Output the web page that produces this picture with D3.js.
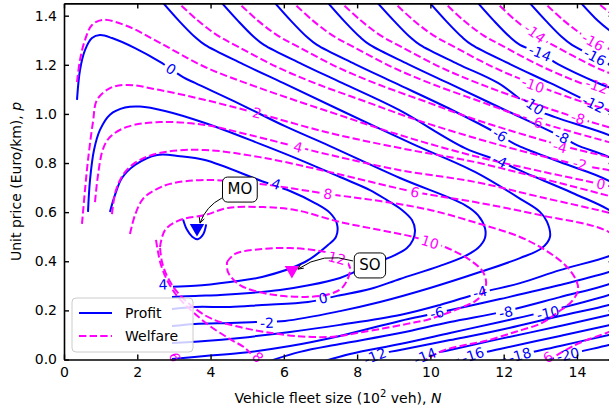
<!DOCTYPE html>
<html>
<head>
<meta charset="utf-8">
<script src="https://cdn.jsdelivr.net/npm/d3@7"></script>
<style>
  body { margin: 0; background: #fff; }
  text { font-family: "DejaVu Sans", sans-serif; }
</style>
</head>
<body>
<svg id="chart" width="609" height="412"></svg>
<script>
// ---- profit contours (N in 10^2 veh, p in Euro/km) ----
const profit6 = [[3.25,0.57],[3.35,0.53],[3.5,0.5],[3.65,0.49],[3.8,0.51],[3.88,0.55]];
const profit4 = [[1.255,0.601],[1.392,0.670],[1.583,0.739],[1.938,0.792],[2.538,0.833],[3.166,0.828],[3.848,0.812],[5.404,0.726],[6.168,0.686],[6.85,0.637],[7.259,0.597],[7.45,0.552],[7.423,0.499],[7.205,0.466],[6.577,0.397],[5.404,0.336],[4.53,0.316],[3.575,0.3],[2.975,0.296]];
const profit2 = [[0.655,0.601],[0.71,0.731],[0.819,0.853],[0.982,0.935],[1.255,0.997],[1.665,1.026],[2.074,1.03],[2.756,1.012],[3.848,0.963],[5.349,0.878],[6.44,0.813],[7.532,0.743],[8.351,0.69],[8.815,0.649],[9.224,0.609],[9.497,0.568],[9.579,0.527],[9.524,0.487],[9.36,0.454],[9.033,0.425],[8.624,0.401],[8.16,0.373],[7.86,0.352],[7.532,0.332],[6.714,0.303],[5.895,0.283],[5.076,0.271],[4.258,0.263],[3.575,0.259],[2.947,0.254]];
const profit0 = [[0.355,1.057],[0.437,1.179],[0.573,1.26],[0.764,1.309],[0.982,1.321],[1.31,1.309],[1.938,1.268],[2.62,1.212],[3.248,1.15],[3.575,1.126],[4.803,1.04],[6.031,0.95],[7.259,0.869],[9.169,0.739],[10.943,0.629],[11.298,0.588],[11.489,0.535],[11.489,0.495],[11.298,0.454],[10.943,0.421],[10.262,0.381],[9.17,0.328],[8.35,0.287],[7.45,0.259],[6.659,0.234],[5.404,0.222],[4.53,0.214],[3.575,0.214],[2.947,0.206]];
const profitM2 = [[2.6,1.47],[3.138,1.379],[3.575,1.313],[3.848,1.281],[4.885,1.203],[5.977,1.126],[7.532,1.016],[9.524,0.877],[11.216,0.764],[12.499,0.65],[12.99,0.601],[13.181,0.561],[13.263,0.499],[13.045,0.454],[12.445,0.413],[11.353,0.356],[9.989,0.291],[8.624,0.234],[7.532,0.197],[6.031,0.157],[5.295,0.153],[4.53,0.149],[3.575,0.145],[2.947,0.136]];
const profitM4 = [[4.2,1.47],[4.749,1.379],[5.185,1.313],[5.458,1.281],[6.495,1.203],[7.587,1.126],[9.142,1.016],[10.943,0.861],[11.898,0.808],[12.362,0.775],[13.945,0.674],[14.873,0.609],[15.45,0.54],[15.45,0.46],[14.873,0.421],[13.537,0.364],[12.445,0.311],[11.353,0.271],[10.262,0.222],[9.17,0.181],[7.532,0.141],[6.168,0.112],[4.803,0.088],[3.848,0.075],[2.947,0.067]];
const profitM6 = [[5.65,1.47],[6.195,1.379],[6.632,1.313],[6.905,1.281],[7.942,1.203],[9.033,1.126],[10.59,1.016],[11.898,0.914],[12.307,0.877],[13.536,0.804],[14.873,0.727],[15.72,0.63],[15.72,0.40],[14.873,0.356],[13.537,0.303],[11.899,0.246],[10.18,0.189],[9.17,0.157],[7.532,0.096],[6.168,0.055],[4.803,0.026],[3.848,0.014],[2.947,0.002]];
const profitM8 = [[7.1,1.47],[7.642,1.379],[8.079,1.313],[8.351,1.281],[9.389,1.203],[10.48,1.126],[12.036,1.016],[13.59,0.906],[14.0,0.873],[14.873,0.824],[15.72,0.751],[15.72,0.36],[14.873,0.307],[13.537,0.254],[12.063,0.197],[10.535,0.153],[9.17,0.108],[7.532,0.063],[6.441,0.031],[5.622,-0.006]];
const profitM10 = [[8.45,1.47],[9.006,1.379],[9.443,1.313],[9.716,1.281],[10.753,1.203],[11.844,1.126],[12.799,1.024],[13.4,0.987],[14.873,0.914],[15.72,0.853],[15.72,0.31],[14.873,0.263],[13.209,0.197],[11.899,0.153],[10.535,0.108],[9.17,0.063],[7.806,0.022],[7.123,-0.006]];
const profitM12 = [[9.88,1.47],[10.425,1.379],[10.862,1.313],[11.134,1.281],[12.171,1.203],[13.263,1.126],[14.627,1.028],[14.873,1.012],[15.72,0.955],[15.72,0.26],[14.873,0.222],[13.537,0.177],[11.899,0.12],[10.535,0.079],[9.17,0.039],[8.488,0.018],[8.079,-0.006]];
const profitM14 = [[11.19,1.47],[11.735,1.379],[12.171,1.313],[12.444,1.281],[12.99,1.248],[13.481,1.203],[14.572,1.126],[14.873,1.108],[15.72,1.059],[15.72,0.21],[14.873,0.181],[13.537,0.136],[11.899,0.084],[10.535,0.039],[9.853,0.018],[9.443,-0.006]];
const profitM16 = [[12.6,1.47],[13.154,1.379],[13.59,1.313],[13.863,1.281],[14.491,1.232],[14.873,1.203],[15.72,1.138],[15.72,0.17],[14.873,0.14],[13.537,0.096],[11.899,0.043],[11.162,0.018],[10.671,-0.006]];
const profitM18 = [[14.0,1.47],[14.572,1.379],[14.873,1.342],[15.72,1.26],[15.72,0.13],[14.873,0.1],[13.537,0.055],[12.445,0.018],[11.899,-0.006]];
const profitM20 = [[15.72,0.09],[14.873,0.059],[13.755,0.02],[13.127,-0.006]];

// ---- welfare contours ----
const welfare12 = [[4.449,0.397],[4.667,0.43],[5.404,0.45],[6.168,0.454],[6.987,0.442],[7.532,0.421],[7.805,0.373],[7.614,0.296],[7.259,0.267],[6.577,0.255],[5.567,0.267],[4.803,0.303],[4.476,0.356],[4.449,0.397]];
const welfare10 = [[2.62,0.458],[2.757,0.527],[3.166,0.568],[3.848,0.588],[4.476,0.617],[5.349,0.621],[6.305,0.609],[7.533,0.56],[8.624,0.527],[9.525,0.499],[10.399,0.458],[11.081,0.405],[11.436,0.356],[11.517,0.303],[11.299,0.246],[10.944,0.218],[9.989,0.165],[9.361,0.145],[8.16,0.112],[7.26,0.092],[6.305,0.096],[5.486,0.112],[4.803,0.132],[4.039,0.165],[3.521,0.214],[3.111,0.271],[2.838,0.332],[2.675,0.397],[2.62,0.458]];
const welfare8a = [[2.511,0.487],[2.566,0.438],[2.647,0.385],[2.811,0.324],[3.084,0.259],[3.493,0.197],[3.985,0.136],[4.53,0.083],[4.94,0.047],[5.295,-0.01]];
const welfare8b = [[1.801,0.511],[1.938,0.588],[2.156,0.654],[2.484,0.69],[2.893,0.715],[3.848,0.731],[5.349,0.715],[7.205,0.674],[8.624,0.645],[9.989,0.609],[11.354,0.552],[12.445,0.499],[13.128,0.446],[13.674,0.385],[13.974,0.324],[14.029,0.283],[13.865,0.238],[13.483,0.193],[13.046,0.149],[12.309,0.112],[11.49,0.075],[10.944,0.059],[10.399,0.039],[9.989,0.01],[9.771,-0.01]];
const welfare6a = [[1.31,0.592],[1.419,0.69],[1.665,0.763],[2.074,0.813],[2.757,0.845],[3.848,0.853],[5.349,0.824],[7.26,0.763],[9.58,0.682],[11.217,0.641],[12.991,0.588],[14.874,0.519],[15.72,0.405],[15.72,0.16],[14.874,0.112],[13.946,0.059],[13.155,-0.01]];
const welfare6b = [[2.948,0.039],[3.057,-0.01]];
const welfare4 = [[0.846,0.641],[0.928,0.751],[1.064,0.857],[1.255,0.906],[1.719,0.947],[2.62,0.967],[3.848,0.955],[5.076,0.914],[6.387,0.865],[7.26,0.833],[9.17,0.771],[11.217,0.723],[12.991,0.662],[14.874,0.597],[15.5,0.57]];
const welfare2 = [[0.491,0.552],[0.573,0.69],[0.655,0.812],[0.791,0.967],[0.901,1.057],[1.255,1.105],[1.719,1.118],[2.62,1.097],[3.848,1.057],[5.268,1.003],[7.26,0.922],[9.17,0.861],[11.217,0.804],[12.991,0.739],[14.874,0.666],[15.5,0.64]];
const welfare0 = [[0.355,1.13],[0.437,1.22],[0.573,1.301],[0.764,1.362],[1.064,1.383],[1.719,1.358],[2.62,1.289],[3.848,1.191],[5.349,1.105],[7.259,1.008],[9.169,0.914],[11.08,0.833],[12.99,0.767],[14.873,0.706],[15.5,0.68]];
const welfareM2 = [[3.0,1.47],[3.63,1.383],[4.176,1.321],[4.721,1.276],[5.813,1.191],[6.905,1.122],[8.27,1.048],[9.634,0.975],[11.898,0.873],[14.08,0.792],[14.873,0.771],[15.5,0.75]];
const welfareM4 = [[4.64,1.47],[5.267,1.383],[5.813,1.321],[6.359,1.276],[7.45,1.191],[8.542,1.122],[9.906,1.048],[11.271,0.975],[13.536,0.873],[14.873,0.824],[15.5,0.80]];
const welfareM6 = [[6.14,1.47],[6.768,1.383],[7.314,1.321],[7.86,1.276],[8.951,1.191],[10.043,1.122],[11.407,1.048],[12.772,0.975],[14.873,0.885],[15.5,0.86]];
const welfareM8 = [[7.45,1.47],[8.079,1.383],[8.624,1.321],[9.169,1.276],[10.261,1.191],[11.353,1.122],[12.717,1.048],[14.027,0.983],[14.873,0.946],[15.5,0.92]];
const welfareM10 = [[8.9,1.47],[9.524,1.383],[10.07,1.321],[10.616,1.276],[11.707,1.191],[12.799,1.122],[14.163,1.048],[14.873,1.016],[15.5,0.99]];
const welfareM12 = [[10.27,1.47],[10.889,1.383],[11.435,1.321],[11.98,1.276],[13.072,1.191],[14.163,1.122],[14.873,1.085],[15.5,1.06]];
const welfareM14 = [[11.69,1.47],[12.308,1.383],[12.854,1.321],[13.4,1.276],[14.491,1.191],[14.873,1.167],[15.5,1.13]];
const welfareM16 = [[12.99,1.47],[13.618,1.383],[14.163,1.321],[14.709,1.276],[15.3,1.24]];
const welfareM18 = [[14.41,1.47],[15.0,1.40]];

// ---- inline contour labels: [text, N, p] ----
const profitLabels = [["0",2.92,1.183],["4",5.786,0.715],["4",2.702,0.305],["2",8.133,0.377],["0",7.069,0.25],["-2",5.54,0.149],["-4",11.35,0.275],["-6",10.18,0.19],["-8",12.06,0.193],["-10",13.21,0.19],["-12",8.487,0.014],["-14",9.852,0.014],["-16",11.16,0.018],["-18",12.44,0.018],["-20",13.755,0.02],["-4",11.9,0.808],["-6",11.9,0.914],["-8",13.59,0.906],["-10",12.8,1.036],["-12",14.45,1.04],["-14",12.99,1.248],["-16",14.49,1.232]];
const welfareLabels = [["2",5.267,1.004],["4",6.386,0.865],["8",7.205,0.674],["6",9.579,0.682],["10",9.988,0.478],["12",7.45,0.413],["8",5.294,0.01],["6",3.03,0.01],["6",13.21,0.01],["-14",12.85,1.329],["-16",14.44,1.293],["-10",12.8,1.118],["-12",14.547,1.114],["-6",12.88,0.967],["-8",14.03,0.983],["-4",13.54,0.865],["-2",14.08,0.796],["0",14.656,0.715]];

// optimum points and their callouts
const moPoint = [3.63, 0.535], moText = [4.8, 0.694];
const soPoint = [6.22, 0.364], soText = [8.35, 0.385];

const xTicks = [0, 2, 4, 6, 8, 10, 12, 14];
const yTicks = [0, 0.2, 0.4, 0.6, 0.8, 1.0, 1.2, 1.4];

const profitSeries = [[6, profit6],[4, profit4],[2, profit2],[0, profit0],[-2, profitM2],[-4, profitM4],[-6, profitM6],[-8, profitM8],[-10, profitM10],[-12, profitM12],[-14, profitM14],[-16, profitM16],[-18, profitM18],[-20, profitM20]];
const welfareSeries = [[12, welfare12],[10, welfare10],[8, welfare8a],[8, welfare8b],[6, welfare6a],[6, welfare6b],[4, welfare4],[2, welfare2],[0, welfare0],[-2, welfareM2],[-4, welfareM4],[-6, welfareM6],[-8, welfareM8],[-10, welfareM10],[-12, welfareM12],[-14, welfareM14],[-16, welfareM16],[-18, welfareM18]];

const svg = d3.select("#chart");
const width = +svg.attr("width");
const height = +svg.attr("height");

const x = d3.scaleLinear().domain([0, 15]).range([64, 613.6]);
const y = d3.scaleLinear().domain([0, 1.45]).range([359.5, 3.4]);

const defs = svg.append("defs");
defs.append("clipPath").attr("id", "plotclip")
  .append("rect")
  .attr("x", x(0)).attr("y", y(1.45))
  .attr("width", x(15) - x(0)).attr("height", y(0) - y(1.45));

const line = d3.line()
  .x(d => x(d[0]))
  .y(d => y(d[1]))
  .curve(d3.curveCatmullRom.alpha(0.5));

const plot = svg.append("g").attr("clip-path", "url(#plotclip)");
const linesG = plot.append("g");
const labelsG = svg.append("g");

// angle of the nearest stretch of a contour of the same level
function labelAngle(series, level, px, py) {
  let best = Infinity, ang = 0;
  series.filter(s => s[0] === level).forEach(s => {
    const pts = s[1].map(d => [x(d[0]), y(d[1])]);
    for (let i = 0; i < pts.length - 1; i++) {
      const [x1, y1] = pts[i], [x2, y2] = pts[i + 1];
      const dx = x2 - x1, dy = y2 - y1;
      const t = Math.max(0, Math.min(1, ((px - x1) * dx + (py - y1) * dy) / (dx * dx + dy * dy)));
      const dist = Math.hypot(px - (x1 + t * dx), py - (y1 + t * dy));
      if (dist < best) { best = dist; ang = Math.atan2(dy, dx) * 180 / Math.PI; }
    }
  });
  if (ang > 90) ang -= 180;
  if (ang < -90) ang += 180;
  return best < 25 ? ang : 0;
}

function drawFamily(series, labels, color, dash, name) {
  const placed = labels.map(l => {
    const px = x(l[1]), py = y(l[2]);
    const a = labelAngle(series, +l[0], px, py);
    const t = labelsG.append("text")
      .attr("transform", `translate(${px},${py}) rotate(${a})`)
      .attr("text-anchor", "middle")
      .attr("dy", "0.36em")
      .attr("font-size", 14)
      .attr("fill", color)
      .text(l[0]);
    return { level: +l[0], px, py, a, w: t.node().getComputedTextLength() };
  });

  series.forEach((s, i) => {
    const id = `${name}mask${i}`;
    const m = defs.append("mask").attr("id", id).attr("maskUnits", "userSpaceOnUse")
      .attr("x", 0).attr("y", 0).attr("width", width).attr("height", height);
    m.append("rect").attr("width", width).attr("height", height).attr("fill", "#fff");
    placed.filter(p => p.level === s[0]).forEach(p => {
      m.append("rect")
        .attr("x", -p.w / 2 - 3).attr("y", -8)
        .attr("width", p.w + 6).attr("height", 16)
        .attr("transform", `translate(${p.px},${p.py}) rotate(${p.a})`)
        .attr("fill", "#000");
    });
    linesG.append("path")
      .attr("d", line(s[1]))
      .attr("fill", "none")
      .attr("stroke", color)
      .attr("stroke-width", 2)
      .attr("stroke-dasharray", dash)
      .attr("mask", `url(#${id})`);
  });
}

drawFamily(profitSeries, profitLabels, "#0000ff", null, "p");
drawFamily(welfareSeries, welfareLabels, "#ff00ff", "7.4,3.2", "w");

// optimum markers
const tri = d3.symbol().type(d3.symbolTriangle).size(90);
svg.append("path").attr("d", tri())
  .attr("transform", `translate(${x(moPoint[0])},${y(moPoint[1])}) rotate(180)`)
  .attr("fill", "#0000ff");
svg.append("path").attr("d", tri())
  .attr("transform", `translate(${x(soPoint[0])},${y(soPoint[1])}) rotate(180)`)
  .attr("fill", "#ff00ff");

// callouts
function callout(textPos, target, label, startOff, endOff, rad) {
  const tx = x(textPos[0]), ty = y(textPos[1]);
  const sx = tx + startOff[0], sy = ty + startOff[1];
  const ex = x(target[0]) + endOff[0], ey = y(target[1]) + endOff[1];
  const mx = (sx + ex) / 2, my = (sy + ey) / 2;
  const cx = mx + rad * (ey - sy), cy = my - rad * (ex - sx);
  svg.append("path")
    .attr("d", `M${sx},${sy} Q${cx},${cy} ${ex},${ey}`)
    .attr("fill", "none").attr("stroke", "#000").attr("stroke-width", 1);
  const ang = Math.atan2(ey - cy, ex - cx);
  const h = 6;
  svg.append("path")
    .attr("d", `M${ex - h * Math.cos(ang - 0.45)},${ey - h * Math.sin(ang - 0.45)} L${ex},${ey} L${ex - h * Math.cos(ang + 0.45)},${ey - h * Math.sin(ang + 0.45)}`)
    .attr("fill", "none").attr("stroke", "#000").attr("stroke-width", 1);
  const t = svg.append("text")
    .attr("x", tx).attr("y", ty).attr("dy", "0.36em")
    .attr("text-anchor", "middle").attr("font-size", 15)
    .text(label);
  const w = t.node().getComputedTextLength();
  svg.insert("rect", () => t.node())
    .attr("x", tx - w / 2 - 5).attr("y", ty - 12)
    .attr("width", w + 10).attr("height", 25)
    .attr("rx", 5).attr("fill", "#fff").attr("stroke", "#000").attr("stroke-width", 1);
}
callout(moText, moPoint, "MO", [-18, 9], [3, -5], -0.2);
callout(soText, soPoint, "SO", [-17, -4], [6, -1], -0.25);

// axes
const axG = svg.append("g");
axG.append("g").attr("transform", `translate(0,${y(0)})`)
  .call(d3.axisBottom(x).tickValues(xTicks).tickFormat(d3.format("d")).tickSizeInner(-5).tickSizeOuter(0).tickPadding(8));
axG.append("g").attr("transform", `translate(0,${y(1.45)})`)
  .call(d3.axisTop(x).tickValues(xTicks).tickFormat("").tickSizeInner(-5).tickSizeOuter(0));
axG.append("g").attr("transform", `translate(${x(0)},0)`)
  .call(d3.axisLeft(y).tickValues(yTicks).tickFormat(d3.format(".1f")).tickSizeInner(-5).tickSizeOuter(0).tickPadding(7));
axG.append("g").attr("transform", `translate(${x(15)},0)`)
  .call(d3.axisRight(y).tickValues(yTicks).tickFormat("").tickSizeInner(-5).tickSizeOuter(0));
axG.selectAll(".tick text").attr("font-size", 14).attr("font-family", "DejaVu Sans");
axG.selectAll(".tick line").attr("stroke-width", 1.4);
axG.selectAll(".domain").attr("stroke-width", 1.6);

// axis titles
const xt = svg.append("text").attr("x", 338).attr("y", 403).attr("text-anchor", "middle").attr("font-size", 14);
xt.append("tspan").text("Vehicle fleet size (10");
xt.append("tspan").attr("font-size", 10).attr("dy", -6).text("2");
xt.append("tspan").attr("dy", 6).text(" veh), ");
xt.append("tspan").attr("font-style", "italic").text("N");

const yt = svg.append("text").attr("transform", `translate(21,${y(0.725)}) rotate(-90)`)
  .attr("text-anchor", "middle").attr("font-size", 14);
yt.append("tspan").text("Unit price (Euro/km), ");
yt.append("tspan").attr("font-style", "italic").text("p");

// legend
const lg = svg.append("g").attr("transform", "translate(72,298)");
lg.append("rect").attr("width", 121).attr("height", 54).attr("rx", 4)
  .attr("fill", "#fff").attr("fill-opacity", 0.8).attr("stroke", "#ccc");
lg.append("line").attr("x1", 7).attr("x2", 40).attr("y1", 15).attr("y2", 15)
  .attr("stroke", "#0000ff").attr("stroke-width", 2);
lg.append("line").attr("x1", 7).attr("x2", 40).attr("y1", 38).attr("y2", 38)
  .attr("stroke", "#ff00ff").attr("stroke-width", 2).attr("stroke-dasharray", "7.4,3.2");
lg.append("text").attr("x", 53).attr("y", 15).attr("dy", "0.36em").attr("font-size", 14).text("Profit");
lg.append("text").attr("x", 53).attr("y", 38).attr("dy", "0.36em").attr("font-size", 14).text("Welfare");
</script>
</body>
</html>
